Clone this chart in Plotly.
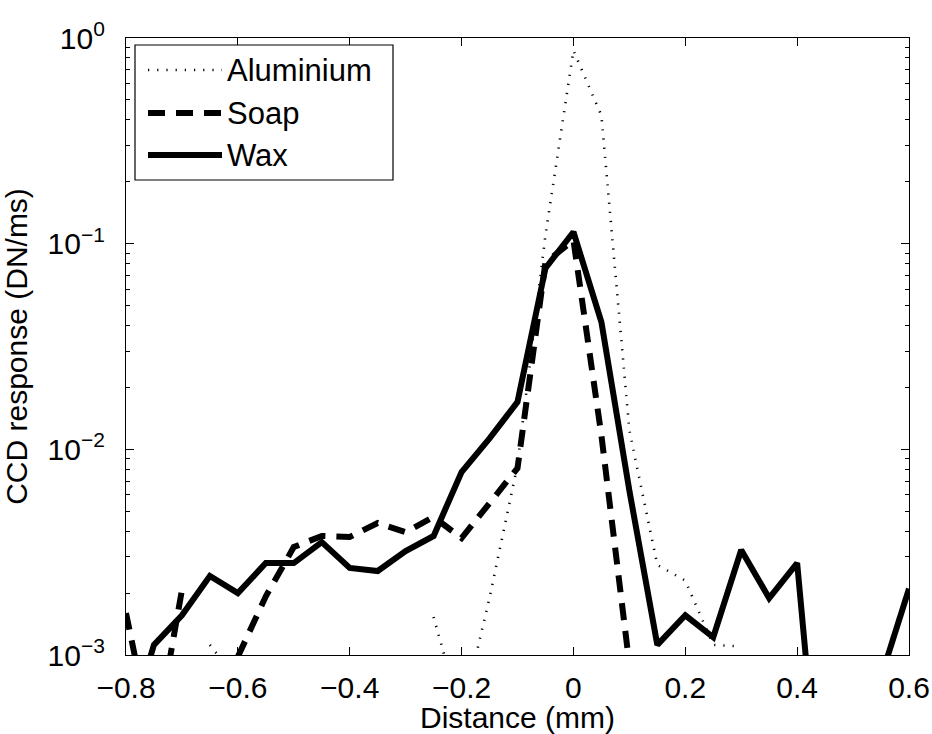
import plotly.graph_objects as go

# Position along the scan (mm)
distance = [-0.8, -0.75, -0.7, -0.65, -0.6, -0.55, -0.5, -0.45, -0.4, -0.35,
            -0.3, -0.25, -0.2, -0.15, -0.1, -0.05, 0.0, 0.05, 0.1, 0.15,
            0.2, 0.25, 0.3, 0.35, 0.4, 0.45, 0.5, 0.55, 0.6]

# CCD response (DN/ms); None where no positive value was recorded
aluminium = [None, None, None, 1.12e-3, 7.5e-4, None, None, None, None, None,
             None, 1.53e-3, 5.0e-4, 1.9e-3, 8.4e-3, 0.11, 0.87, 0.42, 1.24e-2, 2.74e-3,
             2.3e-3, 1.12e-3, 1.1e-3, None, None, None, None, None, None]
soap = [1.6e-3, 3.5e-4, 2.07e-3, None, 9.8e-4, 1.93e-3, 3.35e-3, 3.79e-3, 3.75e-3, 4.38e-3,
        3.96e-3, 4.69e-3, 3.7e-3, 5.5e-3, 8.1e-3, 8.1e-2, 0.104, 1.17e-2, 9.0e-4, None,
        None, None, None, None, None, None, None, None, None]
wax = [4.0e-4, 1.12e-3, 1.56e-3, 2.42e-3, 2.0e-3, 2.8e-3, 2.8e-3, 3.54e-3, 2.65e-3, 2.56e-3,
       3.2e-3, 3.79e-3, 7.76e-3, 1.13e-2, 1.7e-2, 7.6e-2, 0.114, 4.16e-2, 6.3e-3, 1.12e-3,
       1.56e-3, 1.22e-3, 3.24e-3, 1.89e-3, 2.8e-3, 9.4e-5, None, 7.8e-4, 2.1e-3]

series_names = ["Aluminium", "Soap", "Wax"]
x_ticks = [-0.8, -0.6, -0.4, -0.2, 0, 0.2, 0.4, 0.6]
x_tick_text = ["\u22120.8", "\u22120.6", "\u22120.4", "\u22120.2", "0", "0.2", "0.4", "0.6"]
y_ticks = [1e-3, 1e-2, 1e-1, 1]
y_tick_text = ["10<sup>\u22123</sup>", "10<sup>\u22122</sup>", "10<sup>\u22121</sup>", "10<sup>0</sup>"]

FONT = "Liberation Sans, Arial, Helvetica, sans-serif"
styles = [
    dict(color="black", width=2.6, dash="1.2px,8px"),
    dict(color="black", width=6, dash="17px,11px"),
    dict(color="black", width=6),
]

fig = go.Figure()
for name, ys, st in zip(series_names, [aluminium, soap, wax], styles):
    fig.add_trace(go.Scatter(x=distance, y=ys, mode="lines", name=name,
                             line=st, connectgaps=False, showlegend=False))

W, H = 932, 734
L, R, T, B = 126, 23, 38, 79
pw, ph = W - L - R, H - T - B


def px(xp):
    return (xp - L) / pw


def py(yp):
    return (H - B - yp) / ph


# Legend box with line samples and labels
shapes = [dict(type="rect", xref="paper", yref="paper",
               x0=px(135), x1=px(393), y0=py(180), y1=py(45),
               line=dict(color="black", width=1.2), fillcolor="white", layer="above")]
annotations = []
rows = [70, 113, 155]
for name, st, yr in zip(series_names, styles, rows):
    shapes.append(dict(type="line", xref="paper", yref="paper",
                       x0=px(148), x1=px(222), y0=py(yr), y1=py(yr),
                       line=st, layer="above"))
    annotations.append(dict(text=name, xref="paper", yref="paper",
                            x=px(225), y=py(yr), xanchor="left", yanchor="middle",
                            showarrow=False, font=dict(family=FONT, size=31, color="black")))

axis_common = dict(showline=True, linecolor="black", linewidth=1.2, mirror="ticks",
                   ticks="inside", ticklen=8, tickcolor="black", tickwidth=1,
                   showgrid=False, zeroline=False,
                   tickfont=dict(family=FONT, size=30, color="black"))

fig.update_layout(
    width=W, height=H,
    margin=dict(l=L, r=R, t=T, b=B, autoexpand=False),
    paper_bgcolor="white", plot_bgcolor="white",
    font=dict(family=FONT, size=30, color="black"),
    shapes=shapes, annotations=annotations,
    xaxis=dict(range=[-0.8, 0.6], tickvals=x_ticks, ticktext=x_tick_text,
               ticklabelstandoff=6,
               title=dict(text="Distance (mm)", standoff=2,
                          font=dict(family=FONT, size=30)),
               **axis_common),
    yaxis=dict(type="log", range=[-3, 0], tickvals=y_ticks, ticktext=y_tick_text,
               ticklabelstandoff=14,
               minor=dict(ticks="inside", ticklen=4, tickcolor="black",
                          tickvals=[m * 10 ** e for e in (-3, -2, -1) for m in range(2, 10)]),
               title=dict(text="CCD response (DN/ms)", standoff=12,
                          font=dict(family=FONT, size=30)),
               **axis_common),
)

fig.write_html("out.html")
